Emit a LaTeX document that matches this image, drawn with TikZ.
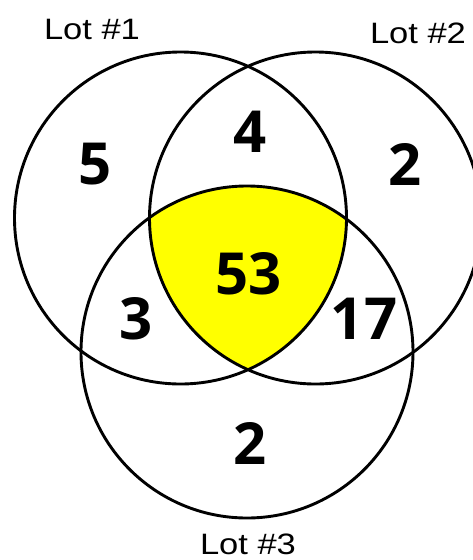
\documentclass[tikz,border=0pt]{standalone}
\usepackage{fontspec}
\setmainfont{Liberation Sans}[FakeStretch=1.17]
\newfontfamily\numfont{Open Sans}
\definecolor{hiyellow}{RGB}{255,255,0}
\begin{document}
\begin{tikzpicture}[x=1pt,y=-1pt,
  ring/.style={draw=black,line width=2.9pt},
  lotlabel/.style={font=\fontsize{29.5}{32}\selectfont,inner sep=0pt},
  count/.style={font=\numfont\bfseries\fontsize{58}{60}\selectfont,inner sep=0pt}]
\useasboundingbox (0,0) rectangle (472,560);
\coordinate (c1) at (180.5,218);
\coordinate (c2) at (315.5,218);
\coordinate (c3) at (247,352);
\begin{scope}
  \clip (c1) circle (166);
  \clip (c2) circle (166);
  \fill[hiyellow] (c3) circle (166);
\end{scope}
\draw[ring] (c1) circle (166);
\draw[ring] (c2) circle (166);
\draw[ring] (c3) circle (166);
\node[lotlabel] (l1) at (92,29) {Lot \#1};
\node[lotlabel] (l2) at (418,33) {Lot \#2};
\node[lotlabel] (l3) at (248,544) {Lot \#3};
\node[count] (n5) at (95,164) {5};
\node[count] (n4) at (250,132) {4};
\node[count] (n2a) at (405,164) {2};
\node[count] (n53) at (248.5,273.5) {53};
\node[count] (n3) at (136,319) {3};
\node[count] (n17) at (364,319) {17};
\node[count] (n2b) at (250,443) {2};
\end{tikzpicture}
\end{document}
